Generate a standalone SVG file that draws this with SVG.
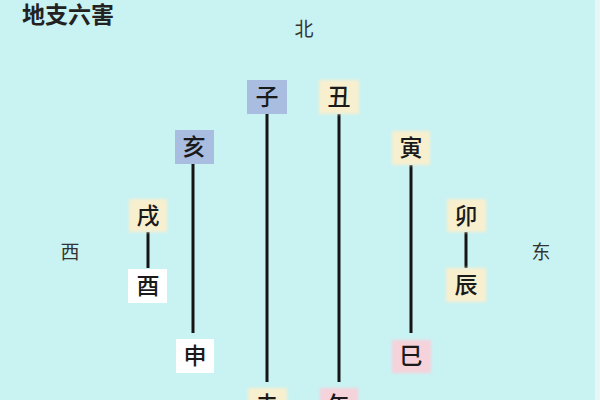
<svg xmlns="http://www.w3.org/2000/svg" width="600" height="400" viewBox="0 0 600 400">
<defs>
<filter id="soft" x="-20%" y="-20%" width="140%" height="140%"><feGaussianBlur stdDeviation="1.5"/></filter>
</defs>
<style>
.bg{fill:#c9f2f2}
.blue{fill:#a9bde0}
.cream{fill:#f8efcf}
.pink{fill:#f6d2da}
.white{fill:#ffffff}
.t{font-family:"Noto Sans CJK SC","Noto Sans",sans-serif;font-size:23px;font-weight:500;fill:#1a1a1a;text-anchor:middle}
.dir{font-family:"Noto Sans CJK SC","Noto Sans",sans-serif;font-size:19px;fill:#333;text-anchor:middle}
.title{font-family:"Noto Sans CJK SC","Noto Sans",sans-serif;font-size:23px;font-weight:bold;fill:#222}
.ln{stroke:#151515;stroke-width:3;fill:none}
</style>
<rect class="bg" x="0" y="0" width="600" height="400"/>
<rect x="595" y="0" width="5" height="400" fill="#e6f8f6"/>
<text class="title" x="22" y="23">地支六害</text>
<text class="dir" x="304" y="36">北</text>
<text class="dir" x="70" y="259">西</text>
<text class="dir" x="541" y="259">东</text>
<g id="connectors">
<line class="ln" x1="267" y1="114" x2="267" y2="382"/>
<line class="ln" x1="339" y1="114" x2="339" y2="382"/>
<line class="ln" x1="193" y1="164" x2="193" y2="333"/>
<line class="ln" x1="411" y1="165" x2="411" y2="333"/>
<line class="ln" x1="148" y1="232" x2="148" y2="268"/>
<line class="ln" x1="466" y1="232" x2="466" y2="268"/>
</g>
<g id="zi"><rect class="blue" x="247" y="80" width="40" height="34"/><text class="t" x="267" y="105">子</text></g>
<g id="chou"><rect class="cream" x="319" y="80" width="40" height="34" filter="url(#soft)"/><text class="t" x="339" y="105">丑</text></g>
<g id="hai"><rect class="blue" x="175" y="130" width="39" height="34"/><text class="t" x="194" y="155">亥</text></g>
<g id="yin"><rect class="cream" x="392" y="131" width="38" height="34" filter="url(#soft)"/><text class="t" x="411" y="156">寅</text></g>
<g id="xu"><rect class="cream" x="129" y="199" width="38" height="33" filter="url(#soft)"/><text class="t" x="148" y="224">戌</text></g>
<g id="you"><rect class="white" x="128" y="269" width="39" height="34"/><text class="t" x="148" y="294">酉</text></g>
<g id="mao"><rect class="cream" x="447" y="199" width="39" height="33" filter="url(#soft)"/><text class="t" x="466" y="224">卯</text></g>
<g id="chen"><rect class="cream" x="446" y="268" width="40" height="34" filter="url(#soft)"/><text class="t" x="466" y="293">辰</text></g>
<g id="shen"><rect class="white" x="176" y="339" width="38" height="34"/><text class="t" x="195" y="364">申</text></g>
<g id="si"><rect class="pink" x="392" y="340" width="39" height="33" filter="url(#soft)"/><text class="t" x="411" y="364">巳</text></g>
<g id="wei"><rect class="cream" x="248" y="388" width="39" height="34" filter="url(#soft)"/><text class="t" x="267" y="413">未</text></g>
<g id="wu"><rect class="pink" x="320" y="388" width="38" height="34" filter="url(#soft)"/><text class="t" x="339" y="413">午</text></g>
</svg>
